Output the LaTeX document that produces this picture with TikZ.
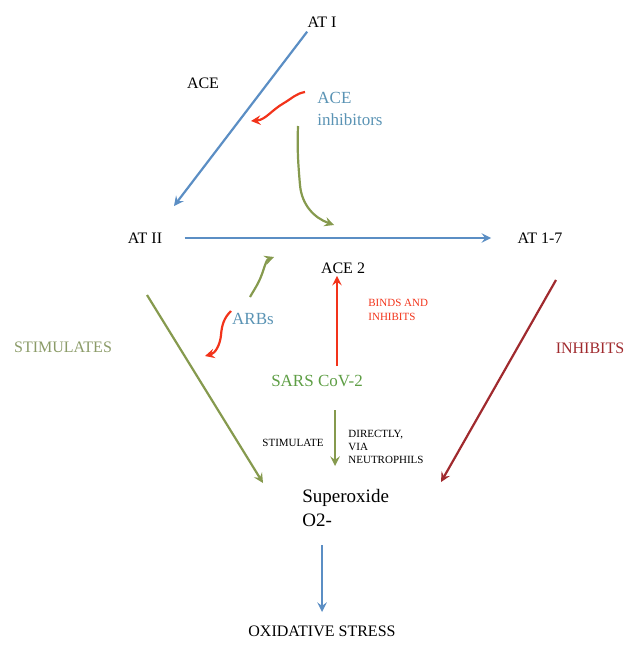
\documentclass[tikz,border=0pt]{standalone}
\usepackage{fontspec}
\setmainfont{Liberation Serif}
\usetikzlibrary{arrows}
\definecolor{raasblue}{HTML}{5B8EC4}
\definecolor{raasgreen}{HTML}{869A4E}
\definecolor{raasred}{HTML}{F2331A}
\definecolor{raasdark}{HTML}{A02A2E}
\definecolor{txtblue}{HTML}{5A93B4}
\definecolor{txtgreen}{HTML}{5E9E45}
\definecolor{txtolive}{HTML}{8B9B68}

\begin{document}
\begin{tikzpicture}[x=0.5pt,y=-0.5pt, >=stealth,
    lbl/.style={font=\fontsize{8}{9.5}\selectfont, inner sep=1pt},
    small/.style={font=\fontsize{5.5}{7}\selectfont, inner sep=1pt, align=left},
    blueline/.style={draw=raasblue, line width=1.1pt, ->},
    greenline/.style={draw=raasgreen, line width=1.1pt, ->},
    redline/.style={draw=raasred, line width=1.1pt, ->}]
  \useasboundingbox (0,0) rectangle (632,647);
  \node[lbl] (AT1) at (322,22) {AT I};
  \node[lbl] (ACE) at (203,83) {ACE};
  \node[lbl, text=txtblue, align=left, anchor=west, font=\fontsize{8.5}{11}\selectfont]
    (INH) at (315,109) {ACE\\inhibitors};
  \node[lbl] (AT2) at (145,238) {AT II};
  \node[lbl] (AT17) at (540,238) {AT 1-7};
  \node[lbl] (ACE2) at (343,268) {ACE 2};
  \node[lbl, text=txtblue, font=\fontsize{8.5}{10}\selectfont] (ARB) at (253,319) {ARBs};
  \node[small, text=raasred, anchor=west] (BIND) at (366,310) {BINDS AND\\INHIBITS};
  \node[lbl, text=txtolive] (STIMS) at (63,347) {STIMULATES};
  \node[lbl, text=raasdark] (INHS) at (590,348) {INHIBITS};
  \node[lbl, text=txtgreen, font=\fontsize{8.5}{10}\selectfont] (SARS) at (317,381) {SARS CoV-2};
  \node[small] (STIM) at (293,443) {STIMULATE};
  \node[small, anchor=west, font=\fontsize{5.5}{6.6}\selectfont] (DIR) at (346,447) {DIRECTLY,\\VIA\\NEUTROPHILS};
  \node[lbl, anchor=west, align=left, font=\fontsize{9.5}{12}\selectfont] (SUP) at (300,508) {Superoxide\\O2-};
  \node[lbl] (OX) at (322,631) {OXIDATIVE STRESS};

  % angiotensin path
  \coordinate (a2tip) at (174,206);
  \draw[blueline] (AT1.south west) ++(2,2) -- (a2tip);
  \draw[blueline] ([xshift=10]AT2.east) -- ([xshift=-12]AT17.west);
  \coordinate (o1) at (322,545);
  \coordinate (o2) at (322,612);
  \draw[blueline] (o1) -- (o2);

  % drug effects
  \coordinate (r1) at (305,92);
  \draw[redline] (r1) to[out=190,in=30] (284,103) to[out=210,in=5] (251,121);
  \coordinate (g0) at (298,126);
  \draw[greenline] (g0) to[out=268,in=95] (300,185) to[out=275,in=160] (334,225);
  \coordinate (g1) at (250,297);
  \draw[greenline] (g1) to[out=60,in=250] (262,274) to[out=70,in=200] (274,257);
  \coordinate (r2) at (231,311);
  \draw[redline] (r2) to[out=225,in=85] (221,335) to[out=265,in=15] (205,356);

  % virus and superoxide
  \coordinate (s0) at (337,366);
  \draw[redline] (s0) -- (ACE2.south -| s0);
  \draw[greenline] (147,295) -- (263,483);
  \coordinate (s1) at (335,410);
  \draw[greenline] (s1) -- (335,466);
  \draw[draw=raasdark, line width=1.1pt, ->] (556,280) -- (441,482);
\end{tikzpicture}
\end{document}
